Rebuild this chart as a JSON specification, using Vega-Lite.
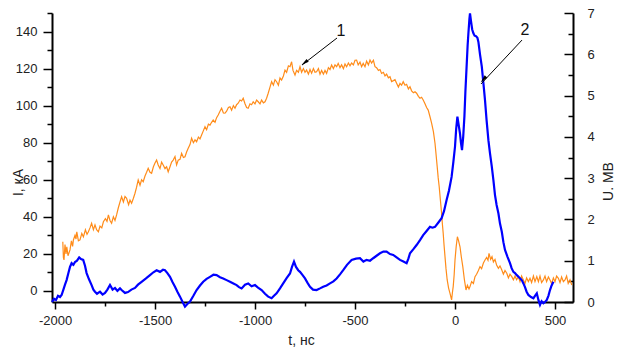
{
  "$schema": "https://vega.github.io/schema/vega-lite/v6.json",
  "width": 521,
  "height": 289,
  "autosize": {"type": "none"},
  "padding": {"left": 52, "top": 13, "right": 44, "bottom": 45},
  "config": {
    "view": {"stroke": null},
    "font": "Liberation Sans",
    "axis": {
      "domainColor": "#000000",
      "domainWidth": 2,
      "tickColor": "#000000",
      "tickWidth": 1.5,
      "grid": false,
      "labelFont": "Liberation Sans",
      "labelFontSize": 13,
      "labelColor": "#222222",
      "titleFont": "Liberation Sans",
      "titleFontSize": 14,
      "titleFontWeight": "normal",
      "titleColor": "#222222"
    }
  },
  "datasets": {
    "current": [
      {"t": -1961, "I": 26.5}, {"t": -1958, "I": 18}, {"t": -1955, "I": 16.7}, {"t": -1950, "I": 25}, {"t": -1945, "I": 20},
      {"t": -1941, "I": 23.8}, {"t": -1935, "I": 19}, {"t": -1925, "I": 22.1}, {"t": -1918, "I": 27}, {"t": -1912, "I": 24},
      {"t": -1908, "I": 27.5}, {"t": -1900, "I": 30}, {"t": -1895, "I": 28}, {"t": -1891, "I": 31.9}, {"t": -1883, "I": 27},
      {"t": -1875, "I": 27.5}, {"t": -1866, "I": 31}, {"t": -1858, "I": 29.2}, {"t": -1848, "I": 33}, {"t": -1840, "I": 30.5},
      {"t": -1833, "I": 31.9}, {"t": -1825, "I": 34}, {"t": -1817, "I": 36.5}, {"t": -1808, "I": 33}, {"t": -1800, "I": 35.6},
      {"t": -1792, "I": 33}, {"t": -1783, "I": 31.9}, {"t": -1775, "I": 35}, {"t": -1766, "I": 34}, {"t": -1758, "I": 37.3},
      {"t": -1748, "I": 39}, {"t": -1740, "I": 37.5}, {"t": -1733, "I": 41}, {"t": -1725, "I": 38}, {"t": -1717, "I": 36.5},
      {"t": -1708, "I": 40}, {"t": -1700, "I": 38}, {"t": -1692, "I": 41}, {"t": -1683, "I": 45}, {"t": -1675, "I": 48},
      {"t": -1667, "I": 50.8}, {"t": -1658, "I": 48}, {"t": -1650, "I": 51}, {"t": -1642, "I": 50}, {"t": -1632, "I": 46.5},
      {"t": -1625, "I": 49}, {"t": -1617, "I": 47.3}, {"t": -1608, "I": 50}, {"t": -1600, "I": 52.7}, {"t": -1592, "I": 56},
      {"t": -1584, "I": 59.9}, {"t": -1575, "I": 57}, {"t": -1567, "I": 60}, {"t": -1559, "I": 58.9}, {"t": -1550, "I": 62},
      {"t": -1542, "I": 64}, {"t": -1534, "I": 66.2}, {"t": -1525, "I": 64}, {"t": -1517, "I": 63.5}, {"t": -1508, "I": 67},
      {"t": -1500, "I": 69}, {"t": -1492, "I": 70.6}, {"t": -1484, "I": 68}, {"t": -1475, "I": 66}, {"t": -1467, "I": 69.5},
      {"t": -1459, "I": 68}, {"t": -1450, "I": 66}, {"t": -1442, "I": 67}, {"t": -1434, "I": 64.3}, {"t": -1425, "I": 67},
      {"t": -1417, "I": 69.5}, {"t": -1409, "I": 70.6}, {"t": -1400, "I": 72.5}, {"t": -1392, "I": 68}, {"t": -1384, "I": 70.6},
      {"t": -1375, "I": 71}, {"t": -1367, "I": 74.3}, {"t": -1358, "I": 72}, {"t": -1350, "I": 72.4}, {"t": -1342, "I": 75},
      {"t": -1334, "I": 77}, {"t": -1325, "I": 79}, {"t": -1317, "I": 82.4}, {"t": -1308, "I": 80}, {"t": -1300, "I": 81.5},
      {"t": -1292, "I": 80.5}, {"t": -1283, "I": 83}, {"t": -1275, "I": 82}, {"t": -1267, "I": 84.1}, {"t": -1258, "I": 86.5},
      {"t": -1250, "I": 88.6}, {"t": -1242, "I": 87}, {"t": -1233, "I": 90}, {"t": -1225, "I": 89.5}, {"t": -1217, "I": 91},
      {"t": -1209, "I": 92.2}, {"t": -1200, "I": 91}, {"t": -1192, "I": 93.5}, {"t": -1184, "I": 94.9}, {"t": -1175, "I": 97},
      {"t": -1167, "I": 98.6}, {"t": -1158, "I": 96}, {"t": -1150, "I": 95.9}, {"t": -1142, "I": 97}, {"t": -1133, "I": 99},
      {"t": -1125, "I": 99.4}, {"t": -1117, "I": 97.5}, {"t": -1108, "I": 100}, {"t": -1100, "I": 98.6}, {"t": -1092, "I": 100.5},
      {"t": -1084, "I": 101.3}, {"t": -1075, "I": 103}, {"t": -1067, "I": 102.5}, {"t": -1059, "I": 104}, {"t": -1050, "I": 101},
      {"t": -1042, "I": 99}, {"t": -1034, "I": 98.6}, {"t": -1025, "I": 101}, {"t": -1017, "I": 100.5}, {"t": -1009, "I": 102.1},
      {"t": -1000, "I": 101}, {"t": -992, "I": 103}, {"t": -984, "I": 102.1}, {"t": -975, "I": 101}, {"t": -967, "I": 103},
      {"t": -958, "I": 101.5}, {"t": -950, "I": 102.1}, {"t": -942, "I": 104}, {"t": -934, "I": 106.7}, {"t": -925, "I": 110},
      {"t": -917, "I": 112.9}, {"t": -908, "I": 111}, {"t": -900, "I": 114}, {"t": -892, "I": 112.9}, {"t": -883, "I": 111},
      {"t": -875, "I": 115}, {"t": -867, "I": 113.8}, {"t": -858, "I": 116}, {"t": -850, "I": 119.2}, {"t": -842, "I": 118},
      {"t": -833, "I": 121.5}, {"t": -825, "I": 121}, {"t": -817, "I": 123.7}, {"t": -810, "I": 119}, {"t": -800, "I": 116.5},
      {"t": -792, "I": 119}, {"t": -783, "I": 118}, {"t": -775, "I": 121}, {"t": -767, "I": 118}, {"t": -758, "I": 120},
      {"t": -750, "I": 118}, {"t": -742, "I": 119.2}, {"t": -733, "I": 117}, {"t": -725, "I": 119.5}, {"t": -717, "I": 117.5},
      {"t": -708, "I": 120}, {"t": -700, "I": 118}, {"t": -692, "I": 118.3}, {"t": -683, "I": 120}, {"t": -675, "I": 117},
      {"t": -667, "I": 119}, {"t": -658, "I": 117}, {"t": -650, "I": 119}, {"t": -642, "I": 117.4}, {"t": -633, "I": 120.5},
      {"t": -625, "I": 119.5}, {"t": -617, "I": 121.9}, {"t": -608, "I": 120}, {"t": -600, "I": 122}, {"t": -592, "I": 121},
      {"t": -584, "I": 122.8}, {"t": -575, "I": 120.5}, {"t": -567, "I": 122}, {"t": -558, "I": 120}, {"t": -550, "I": 122.5},
      {"t": -542, "I": 121}, {"t": -533, "I": 123}, {"t": -525, "I": 121.5}, {"t": -517, "I": 123}, {"t": -508, "I": 122},
      {"t": -500, "I": 124.5}, {"t": -492, "I": 124.6}, {"t": -484, "I": 122}, {"t": -475, "I": 123.5}, {"t": -467, "I": 121},
      {"t": -459, "I": 122.8}, {"t": -450, "I": 121}, {"t": -442, "I": 124}, {"t": -433, "I": 122}, {"t": -425, "I": 124.6},
      {"t": -417, "I": 123}, {"t": -408, "I": 124.5}, {"t": -400, "I": 121}, {"t": -392, "I": 120.5}, {"t": -383, "I": 119},
      {"t": -375, "I": 119.5}, {"t": -367, "I": 117.4}, {"t": -358, "I": 118}, {"t": -350, "I": 116}, {"t": -342, "I": 117},
      {"t": -333, "I": 115}, {"t": -325, "I": 115.6}, {"t": -317, "I": 113}, {"t": -308, "I": 113.5}, {"t": -300, "I": 114},
      {"t": -292, "I": 112.1}, {"t": -283, "I": 110}, {"t": -275, "I": 112}, {"t": -267, "I": 111}, {"t": -259, "I": 112.9},
      {"t": -250, "I": 111}, {"t": -242, "I": 111.5}, {"t": -233, "I": 109}, {"t": -225, "I": 110.2}, {"t": -217, "I": 108},
      {"t": -208, "I": 107}, {"t": -200, "I": 107.5}, {"t": -192, "I": 106.7}, {"t": -183, "I": 105}, {"t": -175, "I": 104},
      {"t": -167, "I": 104.5}, {"t": -159, "I": 103}, {"t": -150, "I": 101}, {"t": -142, "I": 99}, {"t": -134, "I": 97.6},
      {"t": -125, "I": 94}, {"t": -117, "I": 90.5}, {"t": -108, "I": 86}, {"t": -100, "I": 79.7}, {"t": -95, "I": 74},
      {"t": -89, "I": 67}, {"t": -84, "I": 61}, {"t": -79, "I": 56.2}, {"t": -73, "I": 49}, {"t": -67, "I": 41.9},
      {"t": -63, "I": 36}, {"t": -59, "I": 31.1}, {"t": -55, "I": 25}, {"t": -50, "I": 18.5}, {"t": -45, "I": 12},
      {"t": -39, "I": 5.9}, {"t": -32, "I": 1.5}, {"t": -25, "I": -1.3}, {"t": -17, "I": -4.9}, {"t": -13, "I": -1},
      {"t": -9, "I": 2.3}, {"t": -4, "I": 9}, {"t": 0, "I": 16.7}, {"t": 6, "I": 24}, {"t": 12, "I": 29.2},
      {"t": 18, "I": 27}, {"t": 25, "I": 23.8}, {"t": 32, "I": 18}, {"t": 39, "I": 13.1}, {"t": 47, "I": 6},
      {"t": 55, "I": 0.5}, {"t": 62, "I": 3}, {"t": 70, "I": 1}, {"t": 75, "I": 2.3}, {"t": 83, "I": 5},
      {"t": 92, "I": 4}, {"t": 100, "I": 7.7}, {"t": 108, "I": 9}, {"t": 117, "I": 11}, {"t": 125, "I": 13.1},
      {"t": 133, "I": 12}, {"t": 142, "I": 15}, {"t": 150, "I": 16.7}, {"t": 158, "I": 18}, {"t": 165, "I": 16.5},
      {"t": 170, "I": 20.3}, {"t": 178, "I": 17}, {"t": 185, "I": 18.5}, {"t": 192, "I": 15.6}, {"t": 200, "I": 17},
      {"t": 208, "I": 14}, {"t": 217, "I": 12.2}, {"t": 225, "I": 13.5}, {"t": 234, "I": 11.3}, {"t": 242, "I": 9},
      {"t": 250, "I": 11}, {"t": 259, "I": 9.5}, {"t": 267, "I": 7}, {"t": 275, "I": 9}, {"t": 284, "I": 7.7},
      {"t": 292, "I": 6}, {"t": 300, "I": 8}, {"t": 308, "I": 6}, {"t": 317, "I": 7.7}, {"t": 325, "I": 5},
      {"t": 333, "I": 8}, {"t": 342, "I": 5.9}, {"t": 350, "I": 4}, {"t": 358, "I": 7}, {"t": 367, "I": 5},
      {"t": 375, "I": 6.8}, {"t": 383, "I": 4.5}, {"t": 392, "I": 8}, {"t": 400, "I": 5}, {"t": 409, "I": 7.7},
      {"t": 417, "I": 5}, {"t": 425, "I": 8}, {"t": 433, "I": 4.5}, {"t": 442, "I": 5.9}, {"t": 450, "I": 8},
      {"t": 458, "I": 5}, {"t": 467, "I": 7.5}, {"t": 475, "I": 5.9}, {"t": 483, "I": 4}, {"t": 492, "I": 7},
      {"t": 500, "I": 5}, {"t": 508, "I": 8}, {"t": 517, "I": 6.8}, {"t": 525, "I": 4.5}, {"t": 533, "I": 7.5},
      {"t": 542, "I": 5}, {"t": 550, "I": 5.9}, {"t": 558, "I": 8}, {"t": 566, "I": 4}, {"t": 575, "I": 6},
      {"t": 584, "I": 3.2}
    ],
    "voltage": [
      {"t": -2015, "U": 0.0}, {"t": -2005, "U": 0.08}, {"t": -1995, "U": 0.05}, {"t": -1985, "U": 0.15}, {"t": -1975, "U": 0.12},
      {"t": -1967, "U": 0.17}, {"t": -1958, "U": 0.3}, {"t": -1950, "U": 0.42}, {"t": -1942, "U": 0.53}, {"t": -1933, "U": 0.7},
      {"t": -1925, "U": 0.85}, {"t": -1917, "U": 0.94}, {"t": -1908, "U": 0.9}, {"t": -1900, "U": 0.97}, {"t": -1890, "U": 1.0},
      {"t": -1879, "U": 1.08}, {"t": -1870, "U": 1.04}, {"t": -1859, "U": 1.02}, {"t": -1850, "U": 0.88}, {"t": -1842, "U": 0.7},
      {"t": -1830, "U": 0.55}, {"t": -1817, "U": 0.41}, {"t": -1808, "U": 0.3}, {"t": -1800, "U": 0.25}, {"t": -1790, "U": 0.2},
      {"t": -1775, "U": 0.25}, {"t": -1762, "U": 0.18}, {"t": -1750, "U": 0.22}, {"t": -1738, "U": 0.3}, {"t": -1725, "U": 0.41},
      {"t": -1712, "U": 0.3}, {"t": -1700, "U": 0.34}, {"t": -1688, "U": 0.27}, {"t": -1675, "U": 0.33}, {"t": -1667, "U": 0.29},
      {"t": -1650, "U": 0.22}, {"t": -1635, "U": 0.24}, {"t": -1618, "U": 0.3}, {"t": -1600, "U": 0.34}, {"t": -1585, "U": 0.42},
      {"t": -1567, "U": 0.49}, {"t": -1545, "U": 0.57}, {"t": -1525, "U": 0.65}, {"t": -1508, "U": 0.72}, {"t": -1492, "U": 0.77},
      {"t": -1475, "U": 0.73}, {"t": -1460, "U": 0.78}, {"t": -1450, "U": 0.77}, {"t": -1438, "U": 0.7}, {"t": -1425, "U": 0.61},
      {"t": -1412, "U": 0.48}, {"t": -1400, "U": 0.37}, {"t": -1388, "U": 0.25}, {"t": -1375, "U": 0.13}, {"t": -1362, "U": 0.0},
      {"t": -1350, "U": -0.11}, {"t": -1338, "U": -0.05}, {"t": -1325, "U": 0.01}, {"t": -1308, "U": 0.15}, {"t": -1292, "U": 0.29},
      {"t": -1275, "U": 0.4}, {"t": -1259, "U": 0.49}, {"t": -1242, "U": 0.56}, {"t": -1225, "U": 0.61}, {"t": -1208, "U": 0.66},
      {"t": -1192, "U": 0.65}, {"t": -1175, "U": 0.6}, {"t": -1159, "U": 0.57}, {"t": -1142, "U": 0.53}, {"t": -1125, "U": 0.49},
      {"t": -1108, "U": 0.45}, {"t": -1092, "U": 0.41}, {"t": -1080, "U": 0.36}, {"t": -1067, "U": 0.33}, {"t": -1050, "U": 0.42},
      {"t": -1034, "U": 0.45}, {"t": -1017, "U": 0.38}, {"t": -1000, "U": 0.41}, {"t": -985, "U": 0.35}, {"t": -967, "U": 0.29},
      {"t": -950, "U": 0.2}, {"t": -934, "U": 0.13}, {"t": -917, "U": 0.09}, {"t": -905, "U": 0.15}, {"t": -892, "U": 0.21},
      {"t": -875, "U": 0.33}, {"t": -859, "U": 0.45}, {"t": -842, "U": 0.58}, {"t": -825, "U": 0.69}, {"t": -815, "U": 0.85},
      {"t": -805, "U": 0.98}, {"t": -795, "U": 0.85}, {"t": -784, "U": 0.77}, {"t": -775, "U": 0.73}, {"t": -762, "U": 0.65},
      {"t": -750, "U": 0.57}, {"t": -738, "U": 0.47}, {"t": -725, "U": 0.37}, {"t": -710, "U": 0.3}, {"t": -692, "U": 0.29},
      {"t": -675, "U": 0.33}, {"t": -659, "U": 0.37}, {"t": -642, "U": 0.4}, {"t": -625, "U": 0.45}, {"t": -608, "U": 0.5},
      {"t": -592, "U": 0.57}, {"t": -575, "U": 0.67}, {"t": -559, "U": 0.77}, {"t": -540, "U": 0.9}, {"t": -517, "U": 1.02},
      {"t": -495, "U": 1.05}, {"t": -475, "U": 1.06}, {"t": -458, "U": 0.98}, {"t": -442, "U": 1.02}, {"t": -425, "U": 1.0},
      {"t": -409, "U": 1.06}, {"t": -392, "U": 1.12}, {"t": -375, "U": 1.18}, {"t": -358, "U": 1.22}, {"t": -342, "U": 1.22},
      {"t": -325, "U": 1.16}, {"t": -309, "U": 1.14}, {"t": -292, "U": 1.08}, {"t": -275, "U": 1.02}, {"t": -258, "U": 0.98},
      {"t": -242, "U": 0.94}, {"t": -233, "U": 1.05}, {"t": -225, "U": 1.18}, {"t": -208, "U": 1.28}, {"t": -192, "U": 1.38},
      {"t": -175, "U": 1.5}, {"t": -159, "U": 1.62}, {"t": -142, "U": 1.72}, {"t": -125, "U": 1.82}, {"t": -112, "U": 1.8},
      {"t": -100, "U": 1.82}, {"t": -84, "U": 1.92}, {"t": -67, "U": 2.03}, {"t": -55, "U": 2.2}, {"t": -42, "U": 2.47},
      {"t": -30, "U": 2.7}, {"t": -17, "U": 3.03}, {"t": -8, "U": 3.4}, {"t": 0, "U": 3.76}, {"t": 6, "U": 4.2},
      {"t": 12, "U": 4.49}, {"t": 18, "U": 4.3}, {"t": 25, "U": 4.08}, {"t": 30, "U": 3.85}, {"t": 35, "U": 3.68},
      {"t": 41, "U": 4.0}, {"t": 47, "U": 4.49}, {"t": 52, "U": 5.1}, {"t": 58, "U": 5.7}, {"t": 63, "U": 6.2},
      {"t": 67, "U": 6.51}, {"t": 72, "U": 6.85}, {"t": 75, "U": 6.99}, {"t": 80, "U": 6.8}, {"t": 86, "U": 6.6},
      {"t": 92, "U": 6.51}, {"t": 98, "U": 6.45}, {"t": 105, "U": 6.44}, {"t": 112, "U": 6.4}, {"t": 117, "U": 6.3},
      {"t": 125, "U": 6.0}, {"t": 134, "U": 5.7}, {"t": 142, "U": 5.3}, {"t": 150, "U": 4.89}, {"t": 158, "U": 4.4},
      {"t": 167, "U": 3.92}, {"t": 175, "U": 3.6}, {"t": 184, "U": 3.28}, {"t": 192, "U": 2.95}, {"t": 200, "U": 2.59},
      {"t": 208, "U": 2.35}, {"t": 217, "U": 2.15}, {"t": 225, "U": 1.9}, {"t": 234, "U": 1.7}, {"t": 242, "U": 1.45},
      {"t": 250, "U": 1.26}, {"t": 262, "U": 1.1}, {"t": 275, "U": 0.94}, {"t": 283, "U": 0.82}, {"t": 292, "U": 0.73},
      {"t": 300, "U": 0.7}, {"t": 309, "U": 0.65}, {"t": 320, "U": 0.6}, {"t": 334, "U": 0.53}, {"t": 342, "U": 0.45},
      {"t": 350, "U": 0.36}, {"t": 358, "U": 0.25}, {"t": 367, "U": 0.17}, {"t": 380, "U": 0.12}, {"t": 392, "U": 0.09},
      {"t": 400, "U": 0.15}, {"t": 409, "U": 0.21}, {"t": 417, "U": 0.05}, {"t": 425, "U": -0.07}, {"t": 433, "U": 0.02},
      {"t": 442, "U": -0.03}, {"t": 450, "U": 0.0}, {"t": 459, "U": 0.05}, {"t": 467, "U": 0.15}, {"t": 475, "U": 0.29},
      {"t": 483, "U": 0.4}, {"t": 492, "U": 0.49}
    ],
    "arrows": [
      {"t": -590, "I": 136.5, "t2": -765, "I2": 121.9},
      {"t": 335, "I": 135.4, "t2": 130, "I2": 111.7}
    ],
    "heads": [
      {"t": -752, "I": 123.2, "ang": 232},
      {"t": 142, "I": 114.2, "ang": 223}
    ],
    "labels": [
      {"t": -570, "I": 140.3, "txt": "1"},
      {"t": 350, "I": 140.8, "txt": "2"}
    ]
  },
  "layer": [
    {
      "data": {"name": "current"},
      "mark": {"type": "line", "color": "#ff8c1a", "strokeWidth": 1.2, "interpolate": "linear"},
      "encoding": {
        "x": {
          "field": "t", "type": "quantitative",
          "scale": {"domain": [-2015, 590], "nice": false, "zero": false},
          "axis": {
            "orient": "bottom",
            "title": "t, нс",
            "values": [-2000, -1750, -1500, -1250, -1000, -750, -500, -250, 0, 250, 500],
            "labelExpr": "datum.value % 500 === 0 ? '' + datum.value : ''",
            "tickSize": {"condition": {"test": "datum.value % 500 === 0", "value": 7}, "value": 4},
            "labelPadding": 5,
            "labelFlush": false,
            "labelOverlap": false,
            "titleX": 249,
            "titleY": 38,
            "titleBaseline": "middle",
            "titleAlign": "center"
          }
        },
        "y": {
          "field": "I", "type": "quantitative",
          "scale": {"domain": [-6, 150], "nice": false, "zero": false},
          "axis": {
            "orient": "left",
            "title": "I, кА",
            "values": [0, 10, 20, 30, 40, 50, 60, 70, 80, 90, 100, 110, 120, 130, 140, 150],
            "labelExpr": "datum.value % 20 === 0 ? '' + datum.value : ''",
            "tickSize": {"condition": {"test": "datum.value % 20 === 0", "value": 9}, "value": 5},
            "labelPadding": 6,
            "labelOverlap": false,
            "labelFlush": false,
            "titleAngle": -90,
            "titleX": -34,
            "titleY": 169,
            "titleBaseline": "middle",
            "titleAlign": "center"
          }
        }
      }
    },
    {
      "data": {"name": "voltage"},
      "mark": {"type": "line", "color": "#0000ff", "strokeWidth": 2.2, "interpolate": "linear"},
      "encoding": {
        "x": {"field": "t", "type": "quantitative", "scale": {"domain": [-2015, 590], "nice": false, "zero": false}},
        "y": {
          "field": "U", "type": "quantitative",
          "scale": {"domain": [0, 7], "nice": false, "zero": false},
          "axis": {
            "orient": "right",
            "title": "U. MB",
            "values": [0, 0.5, 1, 1.5, 2, 2.5, 3, 3.5, 4, 4.5, 5, 5.5, 6, 6.5, 7],
            "labelExpr": "datum.value % 1 === 0 ? '' + datum.value : ''",
            "tickSize": {"condition": {"test": "datum.value % 1 === 0", "value": -9}, "value": -5},
            "labelPadding": 23,
            "labelOverlap": false,
            "labelFlush": false,
            "titleAngle": -90,
            "titleX": 35,
            "titleY": 168,
            "titleBaseline": "middle",
            "titleAlign": "center"
          }
        }
      }
    },
    {
      "data": {"name": "arrows"},
      "mark": {"type": "rule", "color": "#000000", "strokeWidth": 1},
      "encoding": {
        "x": {"field": "t", "type": "quantitative", "scale": {"domain": [-2015, 590], "nice": false, "zero": false}},
        "y": {"field": "I", "type": "quantitative", "scale": {"domain": [-6, 150], "nice": false, "zero": false}, "axis": null},
        "x2": {"field": "t2"},
        "y2": {"field": "I2"}
      }
    },
    {
      "data": {"name": "heads"},
      "mark": {"type": "point", "shape": "M0,-1L0.45,1L-0.45,1Z", "filled": true, "color": "#000000", "size": 60, "opacity": 1},
      "encoding": {
        "x": {"field": "t", "type": "quantitative", "scale": {"domain": [-2015, 590], "nice": false, "zero": false}},
        "y": {"field": "I", "type": "quantitative", "scale": {"domain": [-6, 150], "nice": false, "zero": false}, "axis": null},
        "angle": {"field": "ang", "type": "quantitative", "scale": null}
      }
    },
    {
      "data": {"name": "labels"},
      "mark": {"type": "text", "font": "Liberation Sans", "fontSize": 16, "color": "#111111", "baseline": "middle", "align": "center"},
      "encoding": {
        "x": {"field": "t", "type": "quantitative", "scale": {"domain": [-2015, 590], "nice": false, "zero": false}},
        "y": {"field": "I", "type": "quantitative", "scale": {"domain": [-6, 150], "nice": false, "zero": false}, "axis": null},
        "text": {"field": "txt"}
      }
    }
  ],
  "resolve": {"scale": {"y": "independent"}}
}
